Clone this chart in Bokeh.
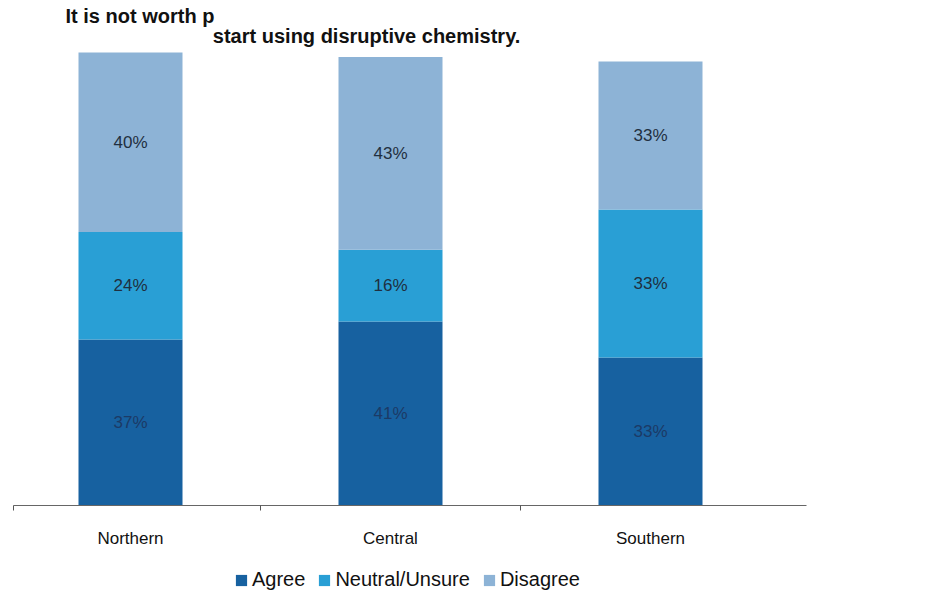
from bokeh.plotting import figure
from bokeh.layouts import column
from bokeh.models import ColumnDataSource, Range1d, FixedTicker, Legend, LegendItem, Label
from bokeh.embed import file_html
from bokeh.resources import INLINE
from bokeh.core.properties import value

regions = ["Northern", "Central", "Southern"]
agree = [37, 41, 33]
neutral = [24, 16, 33]
disagree = [40, 43, 33]
series_names = ["Agree", "Neutral/Unsure", "Disagree"]
series_keys = ["agree", "neutral", "disagree"]
colors = ["#1761a0", "#299fd5", "#8db3d6"]
label_colors = ["#1c3a66", "#1f2f40", "#1f2f40"]
title_lines = ["It is not worth p", "start using disruptive chemistry."]

FONT = "Liberation Sans"

x = list(range(len(regions)))
src = ColumnDataSource(dict(x=x, agree=agree, neutral=neutral, disagree=disagree))

p = figure(frame_width=793, frame_height=505, x_range=Range1d(-0.45, 2.6), y_range=Range1d(0, 112.6),
           output_backend="svg", toolbar_location=None, y_axis_location=None,
           min_border_left=13, min_border_right=126, min_border_top=0, min_border_bottom=60)
p.outline_line_color = None
p.xgrid.visible = False
p.ygrid.visible = False
p.background_fill_color = "white"

renderers = p.vbar_stack(series_keys, x="x", width=0.4, color=colors, line_color=None, source=src)

# segment labels
lx, ly, lt, lc = [], [], [], []
series_vals = [agree, neutral, disagree]
for i in range(len(regions)):
    base = 0
    for s, vals in enumerate(series_vals):
        v = vals[i]
        lx.append(x[i])
        ly.append(base + v / 2)
        lt.append(f"{v}%")
        lc.append(label_colors[s])
        base += v
lsrc = ColumnDataSource(dict(x=lx, y=ly, t=lt, c=lc))
p.text(x="x", y="y", text="t", text_color="c", source=lsrc, text_align="center",
       text_baseline="middle", text_font=value(FONT), text_font_size="17px")

# title lines
p.add_layout(Label(x=-0.25, y=109.25, text=title_lines[0], text_align="left",
                   text_baseline="alphabetic", text_font=FONT, text_font_size="20px",
                   text_font_style="bold", text_color="#111111"))
p.add_layout(Label(x=0.908, y=104.6, text=title_lines[1], text_align="center",
                   text_baseline="alphabetic", text_font=FONT, text_font_size="20px",
                   text_font_style="bold", text_color="#111111"))

ax = p.xaxis[0]
ax.ticker = FixedTicker(ticks=x, minor_ticks=[-0.45, 0.5, 1.5])
ax.major_label_overrides = {i: r for i, r in zip(x, regions)}
ax.major_tick_line_color = None
ax.minor_tick_line_color = "#555555"
ax.minor_tick_in = 0
ax.minor_tick_out = 5
ax.axis_line_color = "#666666"
ax.major_label_standoff = 17
ax.major_label_text_font = FONT
ax.major_label_text_font_size = "17px"
ax.major_label_text_color = "#111111"

# legend strip (zero-height swatch renderers; only their legend glyphs show)
p2 = figure(width=932, height=43, x_range=Range1d(0, 1), y_range=Range1d(0, 1),
            output_backend="svg", toolbar_location=None,
            x_axis_location=None, y_axis_location=None, min_border=0,
            min_border_left=0, min_border_right=0)
p2.outline_line_color = None
p2.xgrid.visible = False
p2.ygrid.visible = False
leg_renderers = [p2.vbar(x=[0.5], top=[0], bottom=[0], width=0.0, color=c, line_color=None)
                 for c in colors]
items = [LegendItem(label=n, renderers=[r]) for n, r in zip(series_names, leg_renderers)]
legend = Legend(items=items, orientation="horizontal", location=(221, 17),
                border_line_color=None, background_fill_alpha=0,
                label_text_font=FONT, label_text_font_size="20px", label_text_color="#111111",
                glyph_width=14, glyph_height=14, label_standoff=4, spacing=12,
                padding=0, margin=0)
p2.add_layout(legend, "center")

open("out.html", "w").write(file_html(column(p, p2, spacing=0), INLINE))
